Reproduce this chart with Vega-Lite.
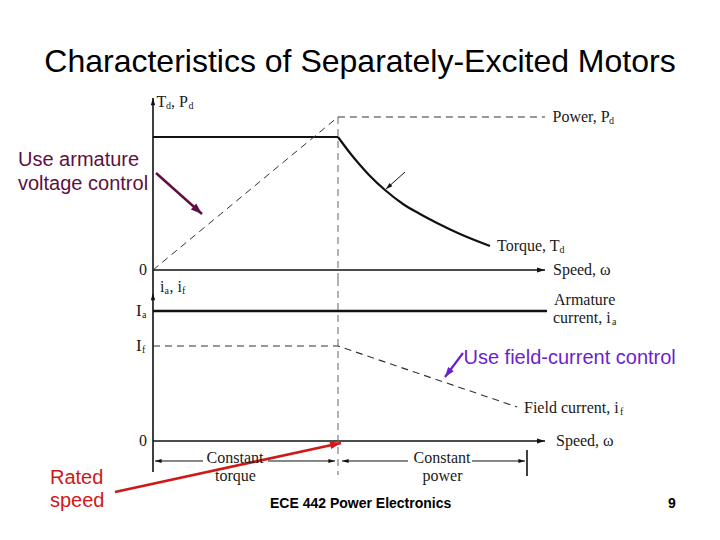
{
  "$schema": "https://vega.github.io/schema/vega-lite/v6.json",
  "padding": 0,
  "background": "white",
  "spacing": 0,
  "bounds": "flush",
  "config": {"view": {"stroke": null}},
  "resolve": {"scale": {"x": "independent", "y": "independent"}},
  "datasets": {
    "topSeg": [
      {"s": "axisV", "w": 0, "v": -0.0677, "w2": 0, "v2": 1.2932},
      {"s": "speedAxis", "w": 0, "v": 0, "w2": 2.1189, "v2": 0},
      {"s": "torqueFlat", "w": 0, "v": 1, "w2": 1, "v2": 1},
      {"s": "ratedSpeed", "w": 1, "v": 1.1504, "w2": 1, "v2": -0.0677},
      {"s": "armNote", "w": 0.0162, "v": 0.7293, "w2": 0.2649, "v2": 0.4211},
      {"s": "curveNote", "w": 1.3622, "v": 0.7368, "w2": 1.2595, "v2": 0.609}
    ],
    "topLine": [
      {"s": "torque", "o": 0, "w": 1, "v": 1},
      {"s": "torque", "o": 1, "w": 1.0649, "v": 0.8797},
      {"s": "torque", "o": 2, "w": 1.1189, "v": 0.7895},
      {"s": "torque", "o": 3, "w": 1.173, "v": 0.7068},
      {"s": "torque", "o": 4, "w": 1.2541, "v": 0.6015},
      {"s": "torque", "o": 5, "w": 1.3514, "v": 0.4962},
      {"s": "torque", "o": 6, "w": 1.4432, "v": 0.4211},
      {"s": "torque", "o": 7, "w": 1.5351, "v": 0.3534},
      {"s": "torque", "o": 8, "w": 1.6595, "v": 0.2707},
      {"s": "torque", "o": 9, "w": 1.8216, "v": 0.1805},
      {"s": "power", "o": 0, "w": 0, "v": 0},
      {"s": "power", "o": 1, "w": 1, "v": 1.1504},
      {"s": "power", "o": 2, "w": 2.1189, "v": 1.1504}
    ],
    "topText": [
      {"r": "title", "t": "Characteristics of Separately-Excited Motors", "w": 1.1189, "v": 1.5639},
      {"r": "note", "t": "Use armature", "w": -0.7297, "v": 0.8271},
      {"r": "note", "t": "voltage control", "w": -0.7297, "v": 0.6429},
      {"r": "label", "t": "T", "w": 0.0189, "v": 1.2632},
      {"r": "sub", "t": "d", "w": 0.0703, "v": 1.2331},
      {"r": "label", "t": ", P", "w": 0.0973, "v": 1.2632},
      {"r": "sub", "t": "d", "w": 0.1919, "v": 1.2331},
      {"r": "label", "t": "Power, P", "w": 2.1595, "v": 1.1504},
      {"r": "sub", "t": "d", "w": 2.4649, "v": 1.1203},
      {"r": "label", "t": "Torque, T", "w": 1.8595, "v": 0.1805},
      {"r": "sub", "t": "d", "w": 2.1973, "v": 0.1504},
      {"r": "label", "t": "Speed, ω", "w": 2.1622, "v": 0},
      {"r": "zero", "t": "0", "w": -0.0324, "v": 0}
    ],
    "botSeg": [
      {"s": "axisLink", "w": 0, "v": 1.5579, "w2": 0, "v2": 1.7053},
      {"s": "iAxis", "w": 0, "v": -0.3263, "w2": 0, "v2": 1.5579},
      {"s": "speedAxis", "w": 0, "v": 0, "w2": 2.1189, "v2": 0},
      {"s": "armCurrent", "w": 0, "v": 1.3684, "w2": 2.1297, "v2": 1.3684},
      {"s": "ratedSpeed", "w": 1, "v": 1.7053, "w2": 1, "v2": -0.3579},
      {"s": "dimLeft", "w": 0.2703, "v": -0.2105, "w2": 0.0108, "v2": -0.2105},
      {"s": "dimLeft", "w": 1.3784, "v": -0.2105, "w2": 1.0216, "v2": -0.2105},
      {"s": "dimRight", "w": 0.6216, "v": -0.2105, "w2": 0.984, "v2": -0.2105},
      {"s": "dimRight", "w": 1.7243, "v": -0.2105, "w2": 2.0108, "v2": -0.2105},
      {"s": "endTick", "w": 2.0216, "v": -0.0947, "w2": 2.0216, "v2": -0.3684},
      {"s": "fieldNote", "w": 1.6757, "v": 0.9263, "w2": 1.5784, "v2": 0.6737},
      {"s": "ratedNote", "w": -0.2054, "v": -0.5368, "w2": 1.0162, "v2": -0.0211}
    ],
    "botLine": [
      {"s": "fieldCurrent", "o": 0, "w": 0, "v": 1},
      {"s": "fieldCurrent", "o": 1, "w": 1, "v": 1},
      {"s": "fieldCurrent", "o": 2, "w": 1.9676, "v": 0.3579}
    ],
    "botText": [
      {"r": "label", "t": "i", "w": 0.0378, "v": 1.6211},
      {"r": "sub", "t": "a", "w": 0.0622, "v": 1.5789},
      {"r": "label", "t": ", i", "w": 0.0892, "v": 1.6211},
      {"r": "sub", "t": "f", "w": 0.1568, "v": 1.5789},
      {"r": "big", "t": "I", "w": -0.0919, "v": 1.3684},
      {"r": "sub", "t": "a", "w": -0.0595, "v": 1.3263},
      {"r": "big", "t": "I", "w": -0.0919, "v": 1.0},
      {"r": "sub", "t": "f", "w": -0.0595, "v": 0.9579},
      {"r": "zero", "t": "0", "w": -0.0324, "v": 0},
      {"r": "label", "t": "Armature", "w": 2.1676, "v": 1.4842},
      {"r": "label", "t": "current, i", "w": 2.1622, "v": 1.2947},
      {"r": "sub", "t": "a", "w": 2.4811, "v": 1.2526},
      {"r": "label", "t": "Field current, i", "w": 2.0054, "v": 0.3474},
      {"r": "sub", "t": "f", "w": 2.5243, "v": 0.3053},
      {"r": "label", "t": "Speed, ω", "w": 2.1784, "v": 0},
      {"r": "dim", "t": "Constant", "w": 0.4432, "v": -0.1737},
      {"r": "dim", "t": "torque", "w": 0.4459, "v": -0.3632},
      {"r": "dim", "t": "Constant", "w": 1.5622, "v": -0.1737},
      {"r": "dim", "t": "power", "w": 1.5649, "v": -0.3684},
      {"r": "fieldNote", "t": "Use field-current control", "w": 1.6784, "v": 0.8789},
      {"r": "ratedNote", "t": "Rated", "w": -0.5568, "v": -0.3947},
      {"r": "ratedNote", "t": "speed", "w": -0.5568, "v": -0.6368},
      {"r": "footer", "t": "ECE 442 Power Electronics", "w": 0.6324, "v": -0.6632},
      {"r": "page", "t": "9", "w": 2.8054, "v": -0.6632}
    ]
  },
  "vconcat": [
    {
      "width": 720,
      "height": 279,
      "encoding": {
        "x": {"field": "w", "type": "quantitative", "scale": {"domain": [-0.827, 3.0649], "nice": false, "zero": false}, "axis": null},
        "y": {"field": "v", "type": "quantitative", "scale": {"domain": [-0.0677, 2.0301], "nice": false, "zero": false}, "axis": null}
      },
      "layer": [
        {"data": {"name": "topSeg"}, "transform": [{"filter": {"field": "s", "oneOf": ["axisV", "speedAxis"]}}],
         "mark": {"type": "rule", "color": "#111111", "strokeWidth": 1.6},
         "encoding": {"x2": {"field": "w2"}, "y2": {"field": "v2"}}},
        {"data": {"name": "topSeg"}, "transform": [{"filter": {"field": "s", "equal": "torqueFlat"}}],
         "mark": {"type": "rule", "color": "#111111", "strokeWidth": 2.2},
         "encoding": {"x2": {"field": "w2"}, "y2": {"field": "v2"}}},
        {"data": {"name": "topSeg"}, "transform": [{"filter": {"field": "s", "equal": "ratedSpeed"}}],
         "mark": {"type": "rule", "color": "#666666", "strokeWidth": 1, "strokeDash": [7, 5]},
         "encoding": {"x2": {"field": "w2"}, "y2": {"field": "v2"}}},
        {"data": {"name": "topLine"}, "transform": [{"filter": {"field": "s", "equal": "torque"}}],
         "mark": {"type": "line", "color": "#111111", "strokeWidth": 2.2, "interpolate": "monotone"},
         "encoding": {"order": {"field": "o", "type": "quantitative"}}},
        {"data": {"name": "topLine"}, "transform": [{"filter": {"field": "s", "equal": "power"}}],
         "mark": {"type": "line", "color": "#333333", "strokeWidth": 1, "strokeDash": [7, 5]},
         "encoding": {"order": {"field": "o", "type": "quantitative"}}},
        {"data": {"name": "topSeg"}, "transform": [{"filter": {"field": "s", "equal": "armNote"}}],
         "mark": {"type": "rule", "color": "#5e1042", "strokeWidth": 2.5},
         "encoding": {"x2": {"field": "w2"}, "y2": {"field": "v2"}}},
        {"data": {"name": "topSeg"}, "transform": [{"filter": {"field": "s", "equal": "curveNote"}}],
         "mark": {"type": "rule", "color": "#111111", "strokeWidth": 1},
         "encoding": {"x2": {"field": "w2"}, "y2": {"field": "v2"}}},
        {"data": {"name": "topSeg"}, "transform": [{"filter": {"field": "s", "equal": "axisV"}}],
         "mark": {"type": "point", "shape": "M0,0L0.42,1.4L-0.42,1.4Z", "filled": true, "color": "#111111", "opacity": 1, "size": 110, "angle": 0},
         "encoding": {
           "x": {"field": "w2", "type": "quantitative", "scale": {"domain": [-0.827, 3.0649], "nice": false, "zero": false}, "axis": null},
           "y": {"field": "v2", "type": "quantitative", "scale": {"domain": [-0.0677, 2.0301], "nice": false, "zero": false}, "axis": null}}},
        {"data": {"name": "topSeg"}, "transform": [{"filter": {"field": "s", "equal": "speedAxis"}}],
         "mark": {"type": "point", "shape": "M0,0L0.42,1.4L-0.42,1.4Z", "filled": true, "color": "#111111", "opacity": 1, "size": 130, "angle": 90},
         "encoding": {
           "x": {"field": "w2", "type": "quantitative", "scale": {"domain": [-0.827, 3.0649], "nice": false, "zero": false}, "axis": null},
           "y": {"field": "v2", "type": "quantitative", "scale": {"domain": [-0.0677, 2.0301], "nice": false, "zero": false}, "axis": null}}},
        {"data": {"name": "topSeg"}, "transform": [{"filter": {"field": "s", "equal": "armNote"}}],
         "mark": {"type": "point", "shape": "M0,0L0.5,1.4L-0.5,1.4Z", "filled": true, "color": "#5e1042", "opacity": 1, "size": 260, "angle": 131.7},
         "encoding": {
           "x": {"field": "w2", "type": "quantitative", "scale": {"domain": [-0.827, 3.0649], "nice": false, "zero": false}, "axis": null},
           "y": {"field": "v2", "type": "quantitative", "scale": {"domain": [-0.0677, 2.0301], "nice": false, "zero": false}, "axis": null}}},
        {"data": {"name": "topSeg"}, "transform": [{"filter": {"field": "s", "equal": "curveNote"}}],
         "mark": {"type": "point", "shape": "M0,0L0.45,1.4L-0.45,1.4Z", "filled": true, "color": "#111111", "opacity": 1, "size": 90, "angle": 228.2},
         "encoding": {
           "x": {"field": "w2", "type": "quantitative", "scale": {"domain": [-0.827, 3.0649], "nice": false, "zero": false}, "axis": null},
           "y": {"field": "v2", "type": "quantitative", "scale": {"domain": [-0.0677, 2.0301], "nice": false, "zero": false}, "axis": null}}},
        {"data": {"name": "topText"}, "transform": [{"filter": {"field": "r", "equal": "label"}}],
         "mark": {"type": "text", "font": "Liberation Serif", "fontSize": 16, "align": "left", "baseline": "middle", "color": "#1a1a1a"},
         "encoding": {"text": {"field": "t"}}},
        {"data": {"name": "topText"}, "transform": [{"filter": {"field": "r", "equal": "sub"}}],
         "mark": {"type": "text", "font": "Liberation Serif", "fontSize": 10, "align": "left", "baseline": "middle", "color": "#1a1a1a"},
         "encoding": {"text": {"field": "t"}}},
        {"data": {"name": "topText"}, "transform": [{"filter": {"field": "r", "equal": "zero"}}],
         "mark": {"type": "text", "font": "Liberation Serif", "fontSize": 16, "align": "right", "baseline": "middle", "color": "#1a1a1a"},
         "encoding": {"text": {"field": "t"}}},
        {"data": {"name": "topText"}, "transform": [{"filter": {"field": "r", "equal": "title"}}],
         "mark": {"type": "text", "font": "Liberation Sans", "fontSize": 32, "align": "center", "baseline": "middle", "color": "#000000"},
         "encoding": {"text": {"field": "t"}}},
        {"data": {"name": "topText"}, "transform": [{"filter": {"field": "r", "equal": "note"}}],
         "mark": {"type": "text", "font": "Liberation Sans", "fontSize": 20, "align": "left", "baseline": "middle", "color": "#5e1042"},
         "encoding": {"text": {"field": "t"}}}
      ]
    },
    {
      "width": 720,
      "height": 261,
      "encoding": {
        "x": {"field": "w", "type": "quantitative", "scale": {"domain": [-0.827, 3.0649], "nice": false, "zero": false}, "axis": null},
        "y": {"field": "v", "type": "quantitative", "scale": {"domain": [-1.0421, 1.7053], "nice": false, "zero": false}, "axis": null}
      },
      "layer": [
        {"data": {"name": "botSeg"}, "transform": [{"filter": {"field": "s", "oneOf": ["axisLink", "iAxis", "speedAxis", "endTick"]}}],
         "mark": {"type": "rule", "color": "#111111", "strokeWidth": 1.6},
         "encoding": {"x2": {"field": "w2"}, "y2": {"field": "v2"}}},
        {"data": {"name": "botSeg"}, "transform": [{"filter": {"field": "s", "equal": "armCurrent"}}],
         "mark": {"type": "rule", "color": "#111111", "strokeWidth": 2.6},
         "encoding": {"x2": {"field": "w2"}, "y2": {"field": "v2"}}},
        {"data": {"name": "botSeg"}, "transform": [{"filter": {"field": "s", "oneOf": ["dimLeft", "dimRight"]}}],
         "mark": {"type": "rule", "color": "#111111", "strokeWidth": 1},
         "encoding": {"x2": {"field": "w2"}, "y2": {"field": "v2"}}},
        {"data": {"name": "botSeg"}, "transform": [{"filter": {"field": "s", "equal": "ratedSpeed"}}],
         "mark": {"type": "rule", "color": "#666666", "strokeWidth": 1, "strokeDash": [7, 5]},
         "encoding": {"x2": {"field": "w2"}, "y2": {"field": "v2"}}},
        {"data": {"name": "botLine"}, "transform": [{"filter": {"field": "s", "equal": "fieldCurrent"}}],
         "mark": {"type": "line", "color": "#333333", "strokeWidth": 1.1, "strokeDash": [7, 5]},
         "encoding": {"order": {"field": "o", "type": "quantitative"}}},
        {"data": {"name": "botSeg"}, "transform": [{"filter": {"field": "s", "equal": "fieldNote"}}],
         "mark": {"type": "rule", "color": "#6b1fd1", "strokeWidth": 2.2},
         "encoding": {"x2": {"field": "w2"}, "y2": {"field": "v2"}}},
        {"data": {"name": "botSeg"}, "transform": [{"filter": {"field": "s", "equal": "ratedNote"}}],
         "mark": {"type": "rule", "color": "#d01818", "strokeWidth": 2.6},
         "encoding": {"x2": {"field": "w2"}, "y2": {"field": "v2"}}},
        {"data": {"name": "botSeg"}, "transform": [{"filter": {"field": "s", "equal": "iAxis"}}],
         "mark": {"type": "point", "shape": "M0,0L0.42,1.4L-0.42,1.4Z", "filled": true, "color": "#111111", "opacity": 1, "size": 110, "angle": 0},
         "encoding": {
           "x": {"field": "w2", "type": "quantitative", "scale": {"domain": [-0.827, 3.0649], "nice": false, "zero": false}, "axis": null},
           "y": {"field": "v2", "type": "quantitative", "scale": {"domain": [-1.0421, 1.7053], "nice": false, "zero": false}, "axis": null}}},
        {"data": {"name": "botSeg"}, "transform": [{"filter": {"field": "s", "equal": "speedAxis"}}],
         "mark": {"type": "point", "shape": "M0,0L0.42,1.4L-0.42,1.4Z", "filled": true, "color": "#111111", "opacity": 1, "size": 130, "angle": 90},
         "encoding": {
           "x": {"field": "w2", "type": "quantitative", "scale": {"domain": [-0.827, 3.0649], "nice": false, "zero": false}, "axis": null},
           "y": {"field": "v2", "type": "quantitative", "scale": {"domain": [-1.0421, 1.7053], "nice": false, "zero": false}, "axis": null}}},
        {"data": {"name": "botSeg"}, "transform": [{"filter": {"field": "s", "equal": "dimRight"}}],
         "mark": {"type": "point", "shape": "M0,0L0.4,1.4L-0.4,1.4Z", "filled": true, "color": "#111111", "opacity": 1, "size": 90, "angle": 90},
         "encoding": {
           "x": {"field": "w2", "type": "quantitative", "scale": {"domain": [-0.827, 3.0649], "nice": false, "zero": false}, "axis": null},
           "y": {"field": "v2", "type": "quantitative", "scale": {"domain": [-1.0421, 1.7053], "nice": false, "zero": false}, "axis": null}}},
        {"data": {"name": "botSeg"}, "transform": [{"filter": {"field": "s", "equal": "dimLeft"}}],
         "mark": {"type": "point", "shape": "M0,0L0.4,1.4L-0.4,1.4Z", "filled": true, "color": "#111111", "opacity": 1, "size": 90, "angle": 270},
         "encoding": {
           "x": {"field": "w2", "type": "quantitative", "scale": {"domain": [-0.827, 3.0649], "nice": false, "zero": false}, "axis": null},
           "y": {"field": "v2", "type": "quantitative", "scale": {"domain": [-1.0421, 1.7053], "nice": false, "zero": false}, "axis": null}}},
        {"data": {"name": "botSeg"}, "transform": [{"filter": {"field": "s", "equal": "fieldNote"}}],
         "mark": {"type": "point", "shape": "M0,0L0.5,1.4L-0.5,1.4Z", "filled": true, "color": "#6b1fd1", "opacity": 1, "size": 200, "angle": 216.9},
         "encoding": {
           "x": {"field": "w2", "type": "quantitative", "scale": {"domain": [-0.827, 3.0649], "nice": false, "zero": false}, "axis": null},
           "y": {"field": "v2", "type": "quantitative", "scale": {"domain": [-1.0421, 1.7053], "nice": false, "zero": false}, "axis": null}}},
        {"data": {"name": "botSeg"}, "transform": [{"filter": {"field": "s", "equal": "ratedNote"}}],
         "mark": {"type": "point", "shape": "M0,0L0.5,1.4L-0.5,1.4Z", "filled": true, "color": "#d01818", "opacity": 1, "size": 240, "angle": 77.8},
         "encoding": {
           "x": {"field": "w2", "type": "quantitative", "scale": {"domain": [-0.827, 3.0649], "nice": false, "zero": false}, "axis": null},
           "y": {"field": "v2", "type": "quantitative", "scale": {"domain": [-1.0421, 1.7053], "nice": false, "zero": false}, "axis": null}}},
        {"data": {"name": "botText"}, "transform": [{"filter": {"field": "r", "equal": "label"}}],
         "mark": {"type": "text", "font": "Liberation Serif", "fontSize": 16, "align": "left", "baseline": "middle", "color": "#1a1a1a"},
         "encoding": {"text": {"field": "t"}}},
        {"data": {"name": "botText"}, "transform": [{"filter": {"field": "r", "equal": "big"}}],
         "mark": {"type": "text", "font": "Liberation Serif", "fontSize": 17, "align": "left", "baseline": "middle", "color": "#1a1a1a"},
         "encoding": {"text": {"field": "t"}}},
        {"data": {"name": "botText"}, "transform": [{"filter": {"field": "r", "equal": "sub"}}],
         "mark": {"type": "text", "font": "Liberation Serif", "fontSize": 10, "align": "left", "baseline": "middle", "color": "#1a1a1a"},
         "encoding": {"text": {"field": "t"}}},
        {"data": {"name": "botText"}, "transform": [{"filter": {"field": "r", "equal": "zero"}}],
         "mark": {"type": "text", "font": "Liberation Serif", "fontSize": 16, "align": "right", "baseline": "middle", "color": "#1a1a1a"},
         "encoding": {"text": {"field": "t"}}},
        {"data": {"name": "botText"}, "transform": [{"filter": {"field": "r", "equal": "dim"}}],
         "mark": {"type": "text", "font": "Liberation Serif", "fontSize": 16, "align": "center", "baseline": "middle", "color": "#1a1a1a"},
         "encoding": {"text": {"field": "t"}}},
        {"data": {"name": "botText"}, "transform": [{"filter": {"field": "r", "equal": "fieldNote"}}],
         "mark": {"type": "text", "font": "Liberation Sans", "fontSize": 20, "align": "left", "baseline": "middle", "color": "#6b1fd1"},
         "encoding": {"text": {"field": "t"}}},
        {"data": {"name": "botText"}, "transform": [{"filter": {"field": "r", "equal": "ratedNote"}}],
         "mark": {"type": "text", "font": "Liberation Sans", "fontSize": 20, "align": "left", "baseline": "middle", "color": "#d01818"},
         "encoding": {"text": {"field": "t"}}},
        {"data": {"name": "botText"}, "transform": [{"filter": {"field": "r", "equal": "footer"}}],
         "mark": {"type": "text", "font": "Liberation Sans", "fontSize": 14, "fontWeight": "bold", "align": "left", "baseline": "middle", "color": "#000000"},
         "encoding": {"text": {"field": "t"}}},
        {"data": {"name": "botText"}, "transform": [{"filter": {"field": "r", "equal": "page"}}],
         "mark": {"type": "text", "font": "Liberation Sans", "fontSize": 14, "fontWeight": "bold", "align": "center", "baseline": "middle", "color": "#000000"},
         "encoding": {"text": {"field": "t"}}}
      ]
    }
  ]
}
